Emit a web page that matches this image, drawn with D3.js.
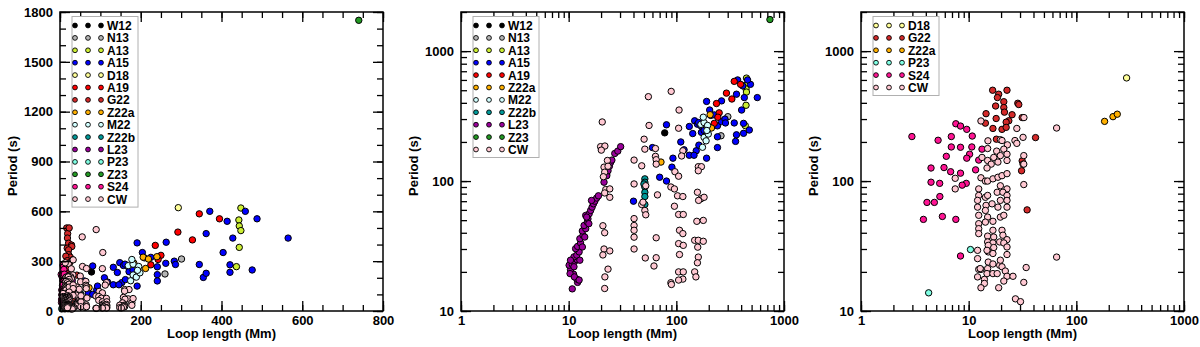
<!DOCTYPE html>
<html><head><meta charset="utf-8">
<script src="https://cdn.jsdelivr.net/npm/d3@7"></script>
<style>
body{margin:0;background:#fff}
text{font-family:"Liberation Sans",Arial,Helvetica,sans-serif;font-weight:bold;fill:#000}
</style>
</head><body>
<svg id="chart" width="1200" height="347"></svg>
<script>
// ---------------- data: [loop length (Mm), period (s)] ----------------
const W12 = [[78,235],[22.5,112]];
const N13 = [[301,313],[260,223]];
const A13 = [[448,620],[443,548],[444,512],[448,484],[444,383],[437,267]];
const A15 = [[40,70],[60,181],[81,271],[70,107],[81,100],[91,128],[93,150],[110,200],[118,174],[132,158],[132,263],[142,232],[148,291],[157,274],[169,266],[171,237],[153,171],[162,189],[146,158],[191,410],[191,150],[204,352],[209,320],[225,323],[241,219],[241,181],[241,266],[262,287],[263,414],[283,300],[286,280],[345,280],[355,202],[362,227],[362,466],[371,600],[414,540],[428,439],[488,555],[476,247],[421,233],[459,600],[565,439],[421,278],[404,352],[181,245],[161,282]];
const D18 = [[293,622]];
const A19 = [[345,585],[395,555],[292,475],[328,428],[236,395],[250,335],[243,310],[225,278]];
const G22 = [[16.7,500],[19,466],[22.7,500],[18.5,439],[21.2,408],[17.8,378],[28.6,397],[29.2,388],[21.2,368],[21.5,339],[25.3,324],[14.5,330],[31.4,308],[18,303],[23.6,291],[22.3,284],[14.3,279],[16.8,254],[20.4,250],[22.3,259],[41.8,216],[18.1,210],[31.4,143],[32,135],[31,120],[34.9,60]];
const Z22a_long = [[72,140],[212,256],[206,324]];
const Z22a_short = [[183,288],[219,313],[240,327]];
const M22 = [[169,273],[181,282],[194,237],[195,268],[181,217],[189,204],[175,182],[198,230],[178,310],[192,245]];
const Z22b = [[51,104],[51,98],[51,90],[51,82],[51,76],[51,66],[50,95]];
const L23 = [[10.8,14.8],[12.1,16.6],[11.9,17.6],[11.1,19.2],[10.4,20.8],[10.1,22.5],[10.8,22.8],[11.3,24],[12.0,24.8],[11.2,26.1],[11.9,26.9],[12.5,28.5],[11.6,30.2],[12.1,31.4],[12.9,33.4],[12.7,36],[13.6,38.2],[13.4,41.3],[14.4,43],[13.9,45.5],[14.9,48.3],[15.1,51.2],[14.4,54.4],[15.5,56],[16.0,59.4],[16.5,63],[17.0,66.8],[17.5,70],[18.2,74],[18.9,77],[21.3,98],[22.6,110],[23.2,120],[23.9,130],[24.5,139],[25.2,145],[26.8,163],[28.6,170],[30.4,184],[10.4,24.6],[11.2,21.9],[10.3,19.4],[11.3,18.3],[12.7,24.6],[13.4,31.1],[14.1,37.1],[14.7,52.8],[15.4,47],[16.3,70.9],[12.5,17.3]];
const P23 = [[10.4,29.7],[4.25,13.8]];
const Z23 = [[740,1750]];
const S24 = [[2.97,220],[5.2,206],[6.9,220],[7.6,276],[8.4,265],[9.6,250],[10.8,222],[6.9,183],[8.4,182],[10.7,183],[10.2,161],[9.6,150],[6.2,155],[5.9,127],[4.47,126],[6.8,118],[8.4,115],[11.6,122],[12.4,145],[13.3,176],[4.47,98],[5.38,96],[9.5,96],[8.7,93],[5.4,76],[4.1,68.5],[4.8,68.5],[5.7,53.4],[3.8,50.7],[7.6,50.7],[8.4,26.5]];
const CW_long = [[20.5,285],[19.8,184],[21.7,186],[20.1,173],[21.3,128],[21.6,117],[21,108],[22.9,144],[23.2,130],[22.1,86],[24.1,87],[21.6,81],[24.1,75],[20.8,45.3],[21.6,40],[21.3,30],[20.8,27],[24.1,29],[23.2,21],[21.7,18.3],[21.6,14.9],
 [40.5,145],[40.5,95],[40.5,51.4],[40.5,45.5],[40.5,41.8],[40.5,37],[40.5,30],[47.7,131],[50.2,210],[51,176],[47.7,66],[49,68.8],[51,59.4],[52,55],[52,92],[55,446],[55.8,268],[64,178],[64,155],[65,146],[65,135],[66.8,78.3],[65,36.6],[65,25.7],[62,22.2],[51.5,25.6],
 [89.6,490],[106,352],[105,255],[115,171],[112,156],[97,118],[105,109],[89,90],[96,87],[102.6,77],[115,76],[96,64],[105,55.3],[116,55.3],[107,41.8],[115,39.4],[105,33],[116,32],[107,27.2],[89,16.5],[90,16],[105,20],[116,20],[115,17.6],[105,17.3],
 [160,129],[171,129],[160,120],[157,82],[169,73],[161,71],[155,49],[178,49.8],[148,35],[160,35],[178,34.4],[158,31],[160,26],[157,23.5],[148,20],[152,18.3],[181,75]];
const CW_short = [[13,290],[28,254],[32.6,308],[32,217],[26.9,205],[28,195],[15.1,204],[19.7,208],[20.4,205],[22.9,190],[21.2,176],[15,178],[18.2,170],[13.3,152],[17.1,152],[19.7,157],[22.7,161],[15,144],[16.2,135],[18.7,140],[14.8,126],[22.7,144],[32.5,157],[32.5,135],[13,106],[14.3,100],[15,100],[16.8,104],[18.7,107],[20.4,110],[22.7,114],[7.5,105],[7.5,87],[65.6,256],[65.6,26],[32.5,94],[12.4,87],[19.7,92],[22.7,87],[12.4,77.5],[14.3,75],[15,77.5],[18.4,82],[20.8,82],[22.7,77.5],[19.7,71],[12.1,71],[12.1,63],[14.5,65],[16.5,66.8],[18.7,63],[22.7,71],[22.7,63],[12.4,54.5],[14.3,59.4],[15,52.8],[19.7,52.8],[21.2,54.5],[12.4,47],[14.3,48.3],[16.8,49],[12.4,43],[12.4,39.4],[16.8,41.8],[20.4,41.8],[20.8,38.3],[15,37.7],[17.1,37.1],[22.7,35.4],[15,34],[16.8,33.4],[19.4,34],[21.2,33.4],[15.2,32],[17.1,30.8],[22.7,31.1],[12.1,29.3],[15.2,28.5],[14.8,29.3],[16.8,27.7],[22.7,27.2],[15.2,23.8],[16.8,23],[19.4,22.5],[15,21.2],[12.4,20.9],[13,20.9],[20.4,21.9],[21.9,20.3],[12.1,18.3],[22.7,18.5],[21.2,17],[25.8,18.5],[14,17.5],[14,16.3],[13,15.1],[19,15.1],[34.2,21.6],[32.5,16.6],[27.2,12.4],[30.3,11.8],[12.1,25.3],[12.8,21.2],[14.8,19.4],[16.8,19.4],[19.7,24.6],[18.4,19.4]];

const legendAll   = ["W12","N13","A13","A15","D18","A19","G22","Z22a","M22","Z22b","L23","P23","Z23","S24","CW"];
const legendLong  = ["W12","N13","A13","A15","A19","Z22a","M22","Z22b","L23","Z23","CW"];
const legendShort = ["D18","G22","Z22a","P23","S24","CW"];

const linXTicks = [0,200,400,600,800];
const linYTicks = [0,300,600,900,1200,1500,1800];
const logXTicks = [1,10,100,1000];
const logYTicks = [10,100,1000];

// ---------------- styles ----------------
const colors = {W12:"#000000",N13:"#b4b4b4",A13:"#ccee33",A15:"#0000ff",D18:"#ffff99",A19:"#ff0000",
  G22:"#d42a2a",Z22a:"#ffb000",M22:"#d2ffff",Z22b:"#009999",L23:"#990099",P23:"#80ffe4",Z23:"#229922",
  S24:"#ff1493",CW:"#ffc8d2"};

const longSet = {W12,N13,A13,A15,A19,Z22a:Z22a_long,M22,Z22b,L23,Z23,CW:CW_long};
const shortSet = {D18,G22,Z22a:Z22a_short,P23,S24,CW:CW_short};
const allSet = {};
legendAll.forEach(k => { allSet[k] = (longSet[k]||[]).concat(shortSet[k]||[]); });

// ---------------- layout ----------------
const svg = d3.select("#chart");
const TOP = 12, BOTTOM = 311, PW = 323;

function minorLog(lo, hi) {
  const out = [];
  for (let d = lo; d < hi; d *= 10) for (let m = 1; m < 10; m++) { const v = d*m; if (v <= hi) out.push(v); }
  out.push(hi);
  return out.filter(v => v <= hi);
}

const panels = [
  {left:60, log:false, xdom:[0,800], ydom:[0,1800], xt:linXTicks, yt:linYTicks,
   xm:d3.range(0,801,50), ym:d3.range(0,1801,100), legend:legendAll, set:allSet},
  {left:461, log:true, xdom:[1,1000], ydom:[10,2000], xt:logXTicks, yt:logYTicks,
   xm:minorLog(1,1000), ym:minorLog(10,1000).concat([2000]), legend:legendLong, set:longSet},
  {left:861, log:true, xdom:[1,1000], ydom:[10,2000], xt:logXTicks, yt:logYTicks,
   xm:minorLog(1,1000), ym:minorLog(10,1000).concat([2000]), legend:legendShort, set:shortSet}
];

panels.forEach(p => {
  const x = (p.log ? d3.scaleLog() : d3.scaleLinear()).domain(p.xdom).range([p.left, p.left+PW]);
  const y = (p.log ? d3.scaleLog() : d3.scaleLinear()).domain(p.ydom).range([BOTTOM, TOP]);
  const g = svg.append("g");

  // points
  const pg = g.append("g");
  p.legend.forEach(k => {
    pg.selectAll(null).data(p.set[k] || []).enter().append("circle")
      .attr("cx", d => x(d[0])).attr("cy", d => y(d[1])).attr("r", 3.2)
      .attr("fill", colors[k]).attr("stroke", "#000").attr("stroke-width", 1);
  });

  // axes with inward ticks
  function ax(axisFn, scale, vals, size, transform, labels) {
    const a = axisFn(scale).tickValues(vals).tickSize(size).tickSizeOuter(0);
    if (labels) a.tickFormat(d3.format("d")).tickPadding(labels); else a.tickFormat("");
    const s = g.append("g").attr("transform", transform).call(a);
    s.select(".domain").remove();
    s.selectAll("line").attr("stroke", "#000").attr("stroke-width", 1.3);
    s.selectAll("text").style("font-size", "13px").style("font-family", '"Liberation Sans",Arial,sans-serif').style("font-weight", "bold").attr("fill", "#000");
    return s;
  }
  ax(d3.axisBottom, x, p.xm, -6, `translate(0,${BOTTOM})`);
  ax(d3.axisBottom, x, p.xt, -10, `translate(0,${BOTTOM})`, 5);
  ax(d3.axisTop, x, p.xm, -6, `translate(0,${TOP})`);
  ax(d3.axisTop, x, p.xt, -10, `translate(0,${TOP})`);
  ax(d3.axisLeft, y, p.ym, -6, `translate(${p.left},0)`);
  ax(d3.axisLeft, y, p.yt, -10, `translate(${p.left},0)`, 7);
  ax(d3.axisRight, y, p.ym, -6, `translate(${p.left+PW},0)`);
  ax(d3.axisRight, y, p.yt, -10, `translate(${p.left+PW},0)`);

  // frame
  g.append("rect").attr("x", p.left).attr("y", TOP).attr("width", PW).attr("height", BOTTOM-TOP)
    .attr("fill", "none").attr("stroke", "#000").attr("stroke-width", 1.5);

  // axis titles
  g.append("text").attr("x", p.left + PW/2).attr("y", 338).attr("text-anchor", "middle")
    .style("font-size", "13px").text("Loop length (Mm)");
  g.append("text").attr("transform", `translate(${p.left-43},166) rotate(-90)`).attr("text-anchor", "middle")
    .style("font-size", "13px").text("Period (s)");

  // legend
  const sp = 12.4, y0 = 25.5;
  const n = p.legend.length;
  const lg = g.append("g");
  lg.append("rect").attr("x", p.left+12).attr("y", 16.5).attr("width", 66)
    .attr("height", y0 + (n-1)*sp + 8 - 16.5)
    .attr("fill", "#fff").attr("stroke", "#b0b0b0").attr("stroke-width", 1);
  p.legend.forEach((k, i) => {
    const yy = y0 + i*sp;
    [15, 28, 41].forEach(dx => {
      lg.append("circle").attr("cx", p.left+dx).attr("cy", yy).attr("r", 2.4)
        .attr("fill", colors[k]).attr("stroke", "#000").attr("stroke-width", 0.9);
    });
    lg.append("text").attr("x", p.left+47).attr("y", yy+4.4).style("font-size", "12px").text(k);
  });
});
</script>
</body></html>
